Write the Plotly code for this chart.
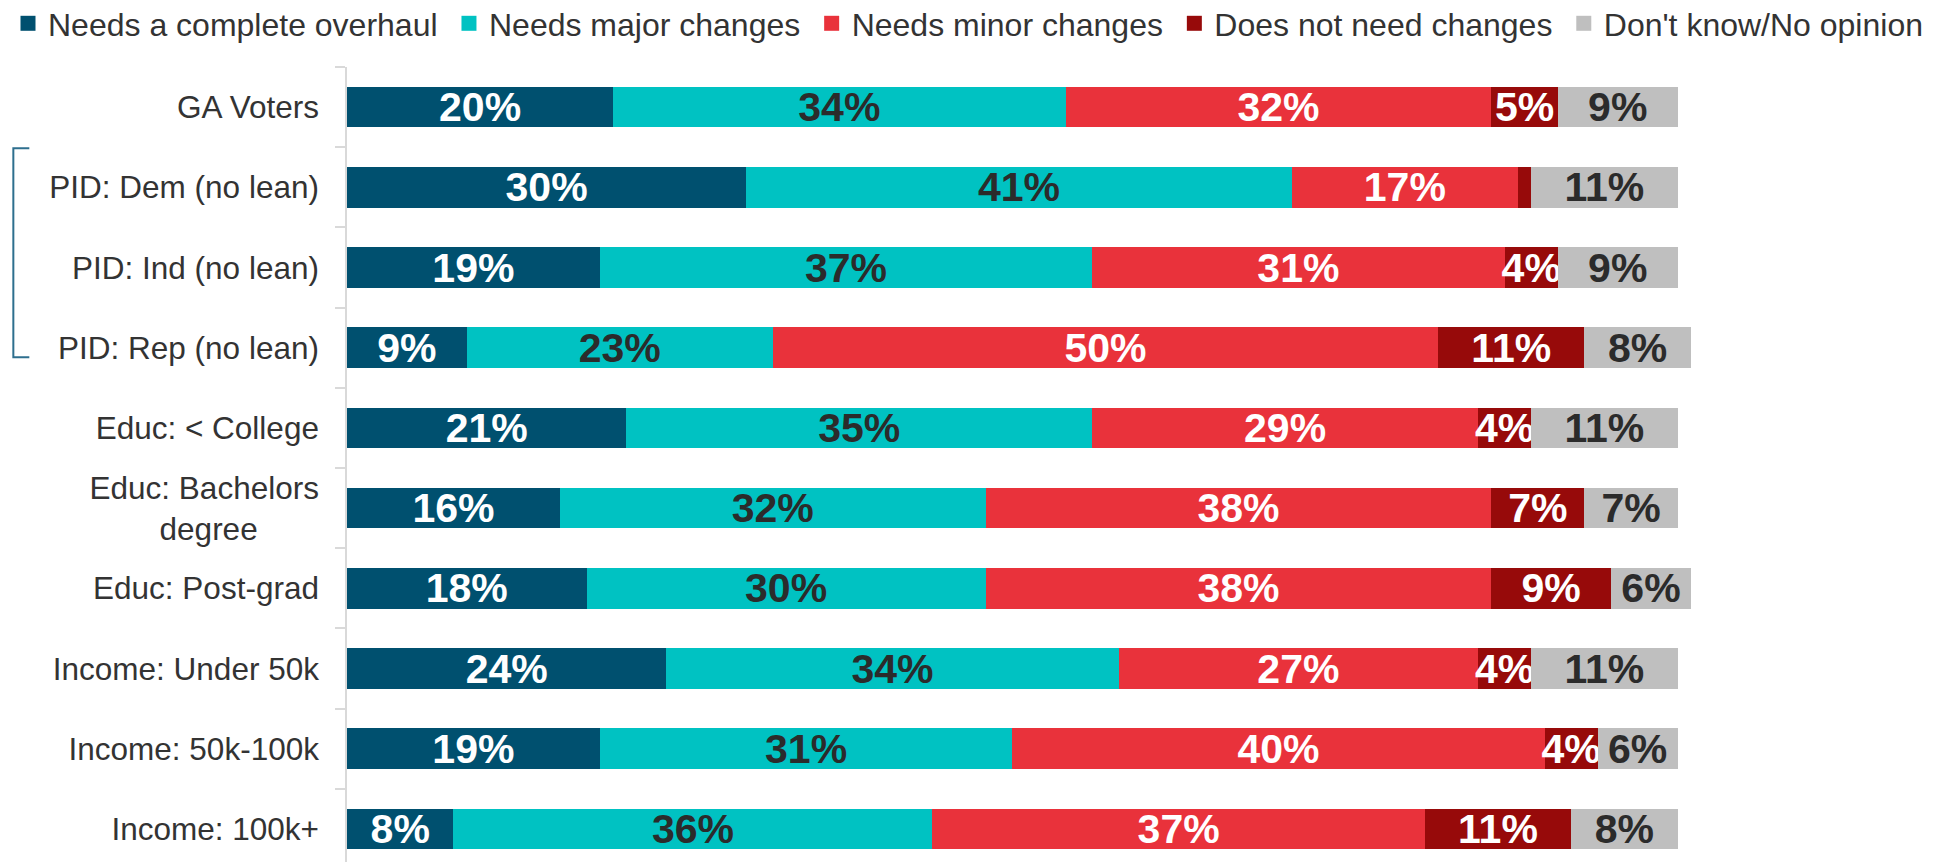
import plotly.graph_objects as go

categories = ["GA Voters", "PID: Dem (no lean)", "PID: Ind (no lean)", "PID: Rep (no lean)",
              "Educ: < College", "Educ: Bachelors<br>degree" + "\u00a0" * 7, "Educ: Post-grad",
              "Income: Under 50k", "Income: 50k-100k", "Income: 100k+"]
series_names = ["Needs a complete overhaul", "Needs major changes", "Needs minor changes",
                "Does not need changes", "Don't know/No opinion"]
overhaul = [20, 30, 19, 9, 21, 16, 18, 24, 19, 8]
major = [34, 41, 37, 23, 35, 32, 30, 34, 31, 36]
minor = [32, 17, 31, 50, 29, 38, 38, 27, 40, 37]
no_change = [5, 1, 4, 11, 4, 7, 9, 4, 4, 11]
dont_know = [9, 11, 9, 8, 11, 7, 6, 11, 6, 8]

series_values = [overhaul, major, minor, no_change, dont_know]
colors = ["#00506F", "#00C2C2", "#E9323B", "#970A0A", "#BFBFBF"]
text_colors = ["#FFFFFF", "#2B2B2B", "#FFFFFF", "#FFFFFF", "#2B2B2B"]
FONT = "Liberation Sans, Arial, sans-serif"

W, H = 1937, 862
ML, MT = 339, 59
PX_PER_PCT = 13.306
plot_w = W - ML
plot_h = H - MT

fig = go.Figure()
n_series = len(series_names)
for i, (name, vals, col, tcol) in enumerate(zip(series_names, series_values, colors, text_colors)):
    fig.add_trace(go.Bar(
        y=categories, x=vals, orientation="h", name=name,
        marker=dict(color=col, line=dict(width=0)),
        text=[f"{v}%" if v > 1 else "" for v in vals],
        textposition="inside", insidetextanchor="middle", textangle=0,
        textfont=dict(family=FONT, size=41, color=tcol, weight="bold"),
        showlegend=False, hoverinfo="skip",
    ))
    fig.add_trace(go.Scatter(
        x=[None], y=[None], mode="markers",
        name=name + ("\u2009" if i < n_series - 1 else ""),
        marker=dict(symbol="square", size=15, color=col),
        showlegend=True,
    ))

# bracket grouping the party-ID rows
bx0, bx1 = -0.2088, -0.1988
byt, byb = 0.8988, 0.6385
fig.add_shape(type="path", xref="paper", yref="paper",
              path=f"M {bx1},{byt} L {bx0},{byt} L {bx0},{byb} L {bx1},{byb}",
              line=dict(color="#2E6F8E", width=2))

fig.update_layout(
    width=W, height=H,
    margin=dict(l=ML, r=0, t=MT, b=0, autoexpand=False),
    barmode="stack", bargap=0.492,
    plot_bgcolor="white", paper_bgcolor="white",
    uniformtext=dict(minsize=41, mode="show"),
    font=dict(family=FONT, color="#333333", size=31.5),
    legend=dict(orientation="h", xref="paper", yref="paper",
                x=-ML / plot_w, y=1 + (MT + 12) / plot_h,
                xanchor="left", yanchor="top",
                traceorder="normal",
                font=dict(family=FONT, size=32, color="#333333"),
                bgcolor="rgba(0,0,0,0)"),
    showlegend=True,
)
fig.update_xaxes(range=[0, plot_w / PX_PER_PCT], visible=False, fixedrange=True)
fig.update_yaxes(categoryorder="array", categoryarray=categories,
                 range=[plot_h / 80.2 - 0.5, -0.5], automargin=False,
                 showline=True, linecolor="#D9D9D9", linewidth=1.5,
                 ticks="outside", tickson="boundaries", ticklen=10,
                 tickcolor="#D9D9D9", tickwidth=1.5, ticklabelstandoff=20,
                 showgrid=False, zeroline=False,
                 tickfont=dict(family=FONT, size=31.5, color="#333333"))

fig.write_html("out.html")
